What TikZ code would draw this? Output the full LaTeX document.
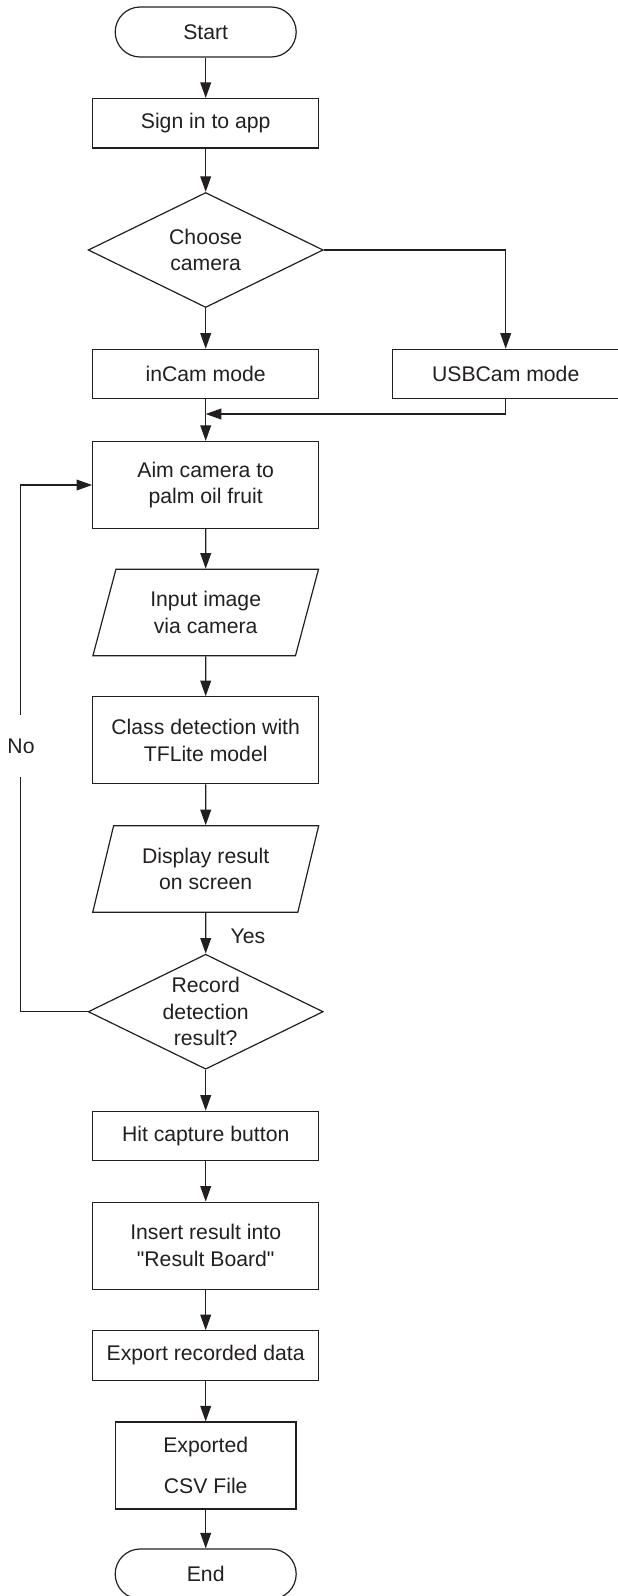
\documentclass[tikz,border=0pt]{standalone}
\usepackage{fontspec}
\setmainfont{Liberation Sans}
\usetikzlibrary{arrows.meta, positioning, shapes.geometric}
\definecolor{ink}{RGB}{35,31,32}
\tikzset{
  terminal/.style = {draw, rounded corners=12.5pt, minimum width=90.5pt,
                     minimum height=25pt},
  procbox/.style  = {draw, minimum width=113pt, minimum height=24.7pt,
                     align=center},
  tallbox/.style  = {procbox, minimum height=43.5pt},
  iobox/.style    = {draw, trapezium, trapezium left angle=74,
                     trapezium right angle=106, trapezium stretches=true,
                     minimum width=113pt, minimum height=43.2pt, align=center},
  decision/.style = {draw, diamond, aspect=2.04, inner sep=0pt,
                     minimum width=117.5pt, minimum height=57.5pt, align=center},
  flow/.style     = {-{Triangle[length=7.8pt, width=5.4pt]}},
}

\begin{document}
\begin{tikzpicture}[x=0.5pt, y=-0.5pt, color=ink, line width=0.6pt,
    font=\fontsize{10.6}{13.3}\selectfont]
    \useasboundingbox (0,0) rectangle (617,1596);

    % --- main column ---
    \node[terminal] (start) at (205.7,32) {Start};
    \node[procbox] (signin) at (205.7,123.3) {Sign in to app};
    \node[decision] (choose) at (205.7,250) {Choose\\camera};
    \node[procbox] (incam) at (205.7,374) {inCam mode};
    \node[procbox] (usbcam) at (505.7,374) {USBCam mode};
    \node[tallbox] (aim) at (205.7,485) {Aim camera to\\palm oil fruit};
    \node[iobox] (input) at (205.7,612.5) {Input image\\via camera};
    \node[tallbox] (classdet) at (205.7,740.3) {Class detection with\\TFLite model};
    \node[iobox] (display) at (205.7,869) {Display result\\on screen};
    \node[decision] (record) at (205.7,1011.7) {Record\\detection\\result?};
    \node[procbox] (capture) at (205.7,1136) {Hit capture button};
    \node[tallbox] (insert) at (205.7,1245.7)
      {Insert result into\\\textquotedbl Result Board\textquotedbl};
    \node[procbox] (export) at (205.7,1355.5) {Export recorded data};
    \node[tallbox, minimum width=90.2pt] (csvfile) at (205.7,1465.5)
      {Exported\\[7.5pt]CSV File};
    \node[terminal] (finish) at (205.7,1574) {End};

    % --- camera branches ---
    \draw[flow] (start) -- (signin);
    \draw[flow] (signin) -- (choose);
    \draw[flow] (choose) -- (incam);
    \draw[flow] (choose.east) -| (usbcam.north);
    \draw[flow] (incam) -- (aim);
    \coordinate (merge) at (205.7,414);
    \draw[flow] (usbcam.south) |- (merge);

    % --- detection ---
    \draw[flow] (aim) -- (input);
    \draw[flow] (input) -- (classdet);
    \draw[flow] (classdet) -- (display);
    \draw[flow] (display) -- (record);
    \node (yeslbl) at (248,936) {Yes};

    % --- retry loop ---
    \draw[flow] (record.west) -- ++(-67,0) |- (aim.west);
    \node[fill=white, minimum height=31pt, inner xsep=1pt] (nolbl) at (21,746) {No};

    % --- recording ---
    \draw[flow] (record) -- (capture);
    \draw[flow] (capture) -- (insert);
    \draw[flow] (insert) -- (export);
    \draw[flow] (export) -- (csvfile);
    \draw[flow] (csvfile) -- (finish);
\end{tikzpicture}
\end{document}
